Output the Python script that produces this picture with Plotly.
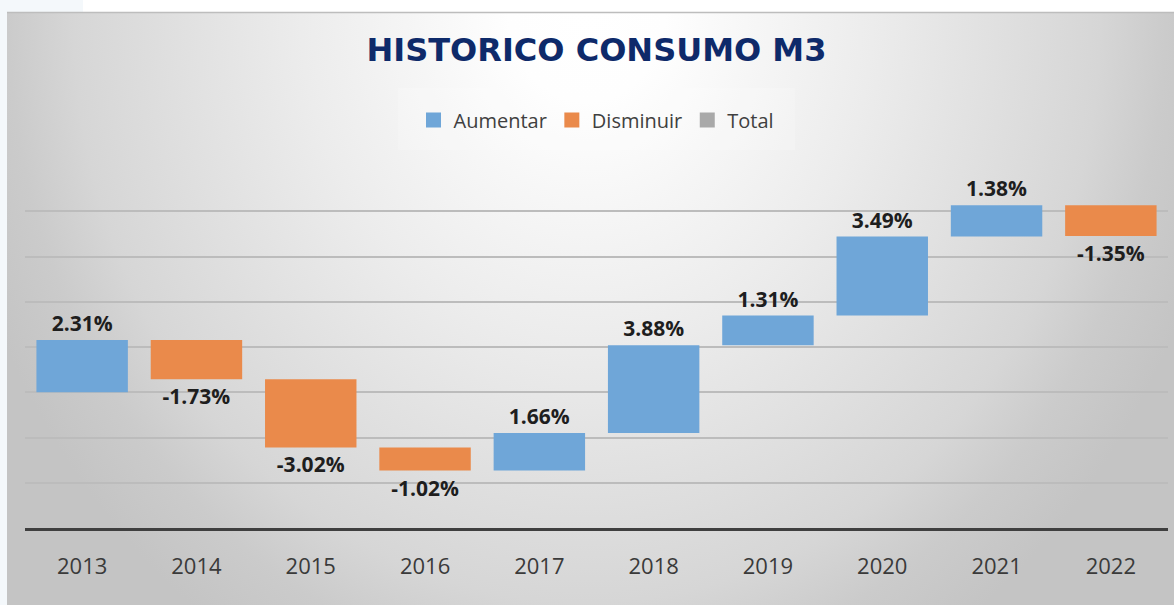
import base64
import numpy as np
import plotly.graph_objects as go

# ---- data ----
years = ["2013", "2014", "2015", "2016", "2017", "2018", "2019", "2020", "2021", "2022"]
changes = [2.31, -1.73, -3.02, -1.02, 1.66, 3.88, 1.31, 3.49, 1.38, -1.35]
legend_names = ["Aumentar", "Disminuir", "Total"]

# ---- styles ----
C_UP = "#6fa6d8"
C_DOWN = "#ea8a4b"
C_TOTAL = "#a9a9a9"
W, H = 1174, 605
ML, MR, MT, MB = 25, 6, 166, 77

vals = np.array(changes)
ends = np.cumsum(vals)
bases = ends - vals
colors = [C_UP if v > 0 else C_DOWN for v in vals]

fig = go.Figure()
fig.add_trace(go.Bar(
    x=years, y=vals, base=bases,
    marker=dict(color=colors, line=dict(width=0)),
    texttemplate="%{y:.2f}%",
    textposition="outside",
    constraintext="none",
    cliponaxis=False,
    outsidetextfont=dict(family="Open Sans", size=21, color="#1e1e1e", weight="bold"),
    showlegend=False,
    hoverinfo="skip",
))
for name, col in zip(legend_names, [C_UP, C_DOWN, C_TOTAL]):
    fig.add_trace(go.Scatter(
        x=[None], y=[None], mode="markers", name=name,
        marker=dict(symbol="square", size=15, color=col),
    ))

# background gradient as SVG image
svg = f'''<svg xmlns="http://www.w3.org/2000/svg" width="{W}" height="{H}" viewBox="0 0 {W} {H}">
<defs>
<radialGradient id="g" gradientUnits="userSpaceOnUse" cx="587" cy="12" r="650"
 gradientTransform="translate(587,12) scale(1,1.15) translate(-587,-12)">
<stop offset="0" stop-color="#ffffff"/>
<stop offset="0.12" stop-color="#fefefe"/>
<stop offset="0.44" stop-color="#ececec"/>
<stop offset="0.79" stop-color="#d6d6d6"/>
<stop offset="0.89" stop-color="#cbcbcb"/>
<stop offset="1" stop-color="#c4c4c4"/>
</radialGradient>
</defs>
<rect x="0" y="0" width="{W}" height="{H}" fill="#ffffff"/>
<rect x="0" y="0" width="7" height="{H}" fill="#f4f8fb"/>
<rect x="0" y="0" width="83" height="12" fill="#f4f8fb"/>
<rect x="7" y="12" width="{W-7}" height="{H-12}" fill="url(#g)"/>
<line x1="7" y1="12.5" x2="{W}" y2="12.5" stroke="#bdbdbd" stroke-width="1.5"/>
</svg>'''
src = "data:image/svg+xml;base64," + base64.b64encode(svg.encode()).decode()
pw, ph = W - ML - MR, H - MT - MB
fig.add_layout_image(
    source=src, xref="paper", yref="paper",
    x=-ML / pw, y=1 + MT / ph, sizex=W / pw, sizey=H / ph,
    xanchor="left", yanchor="top", sizing="stretch", layer="below",
)

# legend backdrop
fig.add_shape(type="rect", xref="paper", yref="paper",
              x0=(398 - ML) / pw, x1=(795 - ML) / pw,
              y0=(H - MB - 150) / ph, y1=(H - MB - 88) / ph,
              fillcolor="rgba(255,255,255,0.2)", line=dict(width=0), layer="below")

fig.update_layout(
    width=W, height=H, autosize=False,
    margin=dict(l=ML, r=MR, t=MT, b=MB),
    paper_bgcolor="rgba(0,0,0,0)", plot_bgcolor="rgba(0,0,0,0)",
    bargap=0.2,
    title=dict(text="<b>HISTORICO CONSUMO M3</b>", x=0.5, xref="paper", xanchor="center",
               y=1 - 50 / H, yanchor="middle",
               font=dict(family="DejaVu Sans", size=32, color="#0e2a6a")),
    legend=dict(orientation="h", x=0.5, xanchor="center", y=(H - MB - 120) / ph, yanchor="middle",
                font=dict(family="Open Sans", size=20, color="#404040"),
                bgcolor="rgba(0,0,0,0)", itemclick=False, itemdoubleclick=False),
    xaxis=dict(type="category", showgrid=False, showline=True, linewidth=3, linecolor="#3f3f3f",
               ticks="", tickfont=dict(family="Open Sans", size=22, color="#3a3a3a"),
               ticklabelstandoff=17, fixedrange=True),
    yaxis=dict(range=[-6, 10], dtick=2, tick0=0, showgrid=True, gridcolor="#bcbcbc", gridwidth=1.5,
               zeroline=False, showticklabels=False, showline=False, fixedrange=True),
)

fig.write_html("out.html", config={"displayModeBar": False},
               post_script="document.body.style.margin='0px';")
